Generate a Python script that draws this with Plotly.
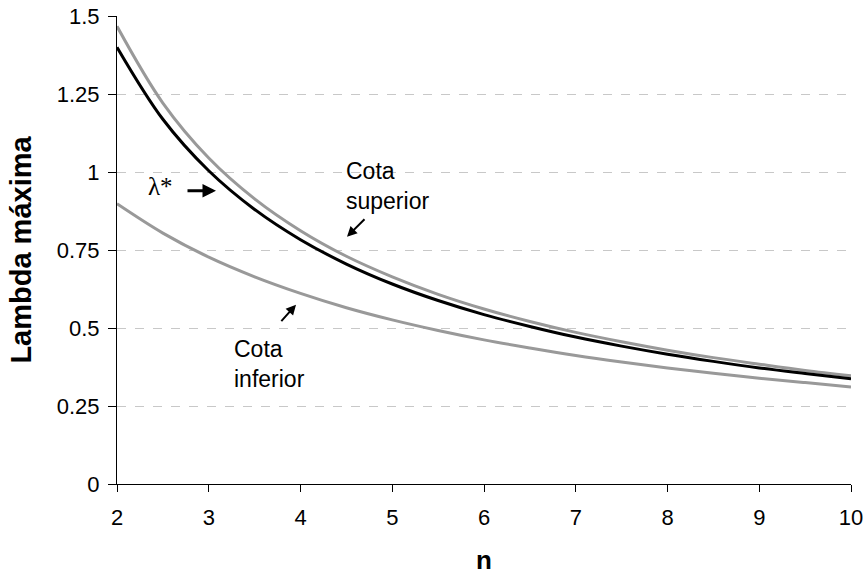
import plotly.graph_objects as go

n_vals = [2, 2.5, 3, 3.5, 4, 4.5, 5, 5.5, 6, 6.5, 7, 7.5, 8, 8.5, 9, 9.5, 10]
cota_superior = [1.467, 1.221, 1.045, 0.914, 0.812, 0.730, 0.664, 0.608, 0.561,
                 0.521, 0.486, 0.456, 0.429, 0.405, 0.384, 0.364, 0.347]
lambda_star = [1.400, 1.169, 1.004, 0.880, 0.783, 0.705, 0.641, 0.588, 0.543,
               0.505, 0.471, 0.442, 0.416, 0.393, 0.372, 0.354, 0.337]
cota_inferior = [0.898, 0.804, 0.727, 0.664, 0.611, 0.565, 0.526, 0.492, 0.462,
                 0.436, 0.412, 0.391, 0.372, 0.355, 0.339, 0.325, 0.311]

y_ticks = [0, 0.25, 0.5, 0.75, 1, 1.25, 1.5]
y_tick_labels = ["0", "0.25", "0.5", "0.75", "1", "1.25", "1.5"]
x_ticks = [2, 3, 4, 5, 6, 7, 8, 9, 10]

FONT = "Liberation Sans, Arial, sans-serif"
SERIF = "Liberation Serif, Times New Roman, serif"
GRAY = "#999999"

fig = go.Figure()
fig.add_trace(go.Scatter(x=n_vals, y=cota_inferior, mode="lines",
                         line=dict(color=GRAY, width=3, shape="spline"), name="Cota inferior"))
fig.add_trace(go.Scatter(x=n_vals, y=cota_superior, mode="lines",
                         line=dict(color=GRAY, width=3, shape="spline"), name="Cota superior"))
fig.add_trace(go.Scatter(x=n_vals, y=lambda_star, mode="lines",
                         line=dict(color="black", width=3, shape="spline"), name="λ*"))

def px_to_x(p):
    return 2 + (p - 117) / 91.75

def px_to_y(p):
    return (484.3 - p) / 312.0

annotations = []
# λ* label and arrow
annotations.append(dict(x=px_to_x(160), y=px_to_y(187), xref="x", yref="y", text="λ*",
                        showarrow=False, font=dict(family=SERIF, size=25, color="black")))
annotations.append(dict(x=px_to_x(216), y=px_to_y(191), ax=px_to_x(186), ay=px_to_y(191),
                        xref="x", yref="y", axref="x", ayref="y", text="",
                        showarrow=True, arrowhead=2, arrowsize=0.9, arrowwidth=3, arrowcolor="black"))
# Cota superior
annotations.append(dict(x=px_to_x(344), y=px_to_y(186), xref="x", yref="y",
                        text="Cota<br>superior", showarrow=False, align="left", xanchor="left",
                        font=dict(family=FONT, size=23, color="black")))
annotations.append(dict(x=px_to_x(347), y=px_to_y(237), ax=px_to_x(366), ay=px_to_y(218),
                        xref="x", yref="y", axref="x", ayref="y", text="",
                        showarrow=True, arrowhead=2, arrowsize=1, arrowwidth=2, arrowcolor="black"))
# Cota inferior
annotations.append(dict(x=px_to_x(232), y=px_to_y(364), xref="x", yref="y",
                        text="Cota<br>inferior", showarrow=False, align="left", xanchor="left",
                        font=dict(family=FONT, size=23, color="black")))
annotations.append(dict(x=px_to_x(296), y=px_to_y(305), ax=px_to_x(280), ay=px_to_y(323),
                        xref="x", yref="y", axref="x", ayref="y", text="",
                        showarrow=True, arrowhead=2, arrowsize=1, arrowwidth=2, arrowcolor="black"))

fig.update_layout(
    width=865, height=575,
    margin=dict(l=117, r=14, t=16, b=91),
    paper_bgcolor="white", plot_bgcolor="white",
    showlegend=False,
    font=dict(family=FONT, size=22, color="black"),
    annotations=annotations,
    xaxis=dict(range=[2, 10], tickvals=x_ticks, showgrid=False, zeroline=False,
               showline=True, linecolor="black", linewidth=1, automargin=False,
               ticks="outside", ticklen=7, tickcolor="black", ticklabelstandoff=7,
               tickfont=dict(family=FONT, size=22),
               title=dict(text="<b>n</b>", font=dict(family=FONT, size=26), standoff=28)),
    yaxis=dict(range=[0, 1.5], tickvals=y_ticks, ticktext=y_tick_labels,
               showgrid=True, gridcolor="#c8c8c8", griddash="dash", gridwidth=1,
               zeroline=False, showline=True, linecolor="black", linewidth=1, automargin=False,
               ticks="outside", ticklen=8, tickcolor="black", ticklabelstandoff=4,
               tickfont=dict(family=FONT, size=22),
               title=dict(text="<b>Lambda máxima</b>", font=dict(family=FONT, size=29), standoff=16)),
)

fig.write_html("out.html")
